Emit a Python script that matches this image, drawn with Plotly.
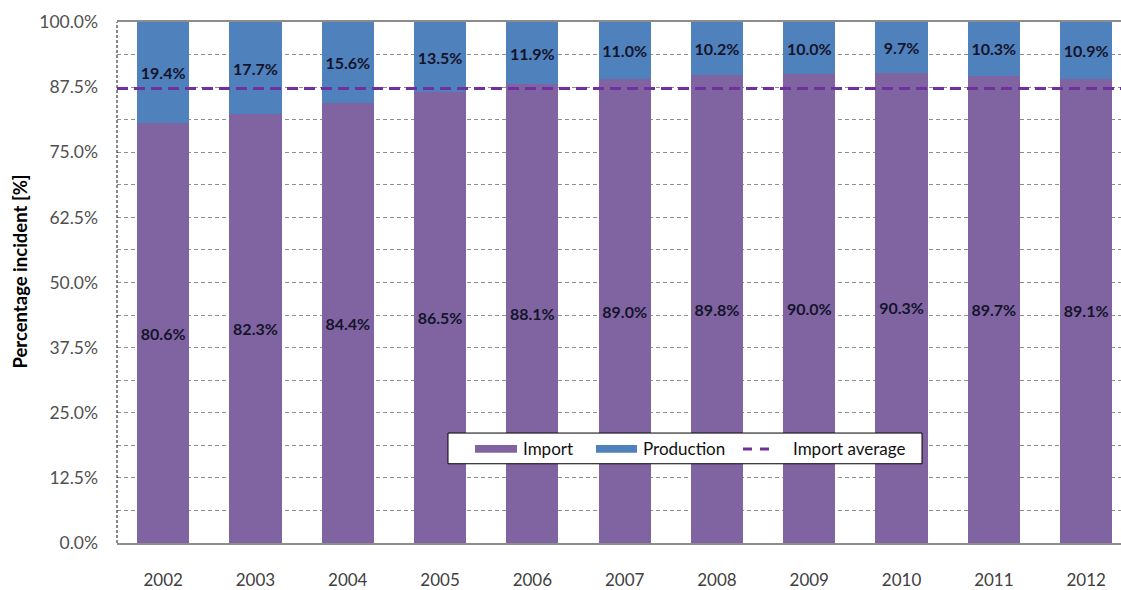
import plotly.graph_objects as go

# Share of incidents by origin, per year (percent)
years = ["2002", "2003", "2004", "2005", "2006", "2007", "2008", "2009", "2010", "2011", "2012"]
import_share = [80.6, 82.3, 84.4, 86.5, 88.1, 89.0, 89.8, 90.0, 90.3, 89.7, 89.1]
production_share = [19.4, 17.7, 15.6, 13.5, 11.9, 11.0, 10.2, 10.0, 9.7, 10.3, 10.9]
y_ticks = [0, 12.5, 25, 37.5, 50, 62.5, 75, 87.5, 100]

import_avg = sum(import_share) / len(import_share)

IMPORT_C = "#8064A2"
PROD_C = "#4F81BD"
AVG_C = "#7030A0"
FONT = "Lato, 'Open Sans', sans-serif"

W, H = 1121, 590
ML, MR, MT, MB = 117, 0, 22, 42
PW, PH = W - ML - MR, H - MT - MB


def px_x(x):
    return (x - ML) / PW


def px_y(y):
    return (H - MB - y) / PH


label_font = dict(family=FONT, size=16, color="#14142a")

fig = go.Figure()
fig.add_trace(go.Bar(
    x=years, y=import_share, name="Import", marker_color=IMPORT_C,
    marker_line_width=0,
    texttemplate="<b>%{y:.1f}%</b>", textposition="inside",
    insidetextanchor="middle", textangle=0, textfont=label_font,
    constraintext="none", showlegend=False, hoverinfo="skip",
))
fig.add_trace(go.Bar(
    x=years, y=production_share, name="Production", marker_color=PROD_C,
    marker_line_width=0,
    texttemplate="<b>%{y:.1f}%</b>", textposition="inside",
    insidetextanchor="middle", textangle=0, textfont=label_font,
    constraintext="none", showlegend=False, hoverinfo="skip",
))

grid_dash = "4px,3px"
fig.update_layout(
    width=W, height=H,
    margin=dict(l=ML, r=MR, t=MT, b=MB),
    barmode="stack", bargap=0.435,
    plot_bgcolor="white", paper_bgcolor="white",
    font=dict(family=FONT),
    xaxis=dict(
        type="category", range=[-0.5, PW / 92.3 - 0.5],
        showline=True, linecolor="#8c8c8c", linewidth=1.5, mirror=True,
        showgrid=False, ticks="", ticklabelstandoff=21,
        tickfont=dict(family=FONT, size=17, color="#404040"),
    ),
    yaxis=dict(
        range=[0, 100], tickvals=y_ticks,
        ticktext=[f"{v:.1f}%" for v in y_ticks],
        showline=False, zeroline=False,
        showgrid=True, gridcolor="#8f8f8f", gridwidth=1, griddash=grid_dash,
        minor=dict(dtick=6.25, showgrid=True, gridcolor="#8f8f8f",
                   gridwidth=1, griddash=grid_dash),
        ticks="", ticklabelstandoff=18,
        tickfont=dict(family=FONT, size=17.5, color="#505050"),
    ),
)

shapes = [
    # dashed left axis
    dict(type="line", xref="paper", yref="paper", x0=0, x1=0, y0=0, y1=1,
         line=dict(color="#111111", width=1, dash="3px,2px")),
    # import average line
    dict(type="line", xref="paper", yref="y", x0=0, x1=1,
         y0=import_avg, y1=import_avg,
         line=dict(color=AVG_C, width=3, dash="11px,6px")),
    # legend box
    dict(type="rect", xref="paper", yref="paper",
         x0=px_x(448), x1=px_x(922), y0=px_y(468), y1=px_y(437),
         line=dict(color="#000000", width=1), fillcolor="white"),
    dict(type="rect", xref="paper", yref="paper",
         x0=px_x(475), x1=px_x(517), y0=px_y(457), y1=px_y(449),
         line=dict(width=0), fillcolor=IMPORT_C),
    dict(type="rect", xref="paper", yref="paper",
         x0=px_x(596), x1=px_x(637), y0=px_y(457), y1=px_y(449),
         line=dict(width=0), fillcolor=PROD_C),
    dict(type="line", xref="paper", yref="paper",
         x0=px_x(743), x1=px_x(777), y0=px_y(453), y1=px_y(453),
         line=dict(color=AVG_C, width=3, dash="9px,8px")),
]
fig.update_layout(shapes=shapes)

legend_font = dict(family=FONT, size=17, color="#111111")
annotations = [
    dict(text="Import", x=px_x(521), y=px_y(453), xref="paper", yref="paper",
         xanchor="left", yanchor="middle", showarrow=False, font=legend_font),
    dict(text="Production", x=px_x(641), y=px_y(453), xref="paper", yref="paper",
         xanchor="left", yanchor="middle", showarrow=False, font=legend_font),
    dict(text="Import average", x=px_x(791), y=px_y(453), xref="paper", yref="paper",
         xanchor="left", yanchor="middle", showarrow=False, font=legend_font),
    dict(text="<b>Percentage incident [%]</b>", x=px_x(20), y=px_y(274),
         xref="paper", yref="paper", textangle=-90, showarrow=False,
         xanchor="center", yanchor="middle",
         font=dict(family=FONT, size=18.5, color="#000000")),
]
fig.update_layout(annotations=annotations)

fig.write_html("out.html")
